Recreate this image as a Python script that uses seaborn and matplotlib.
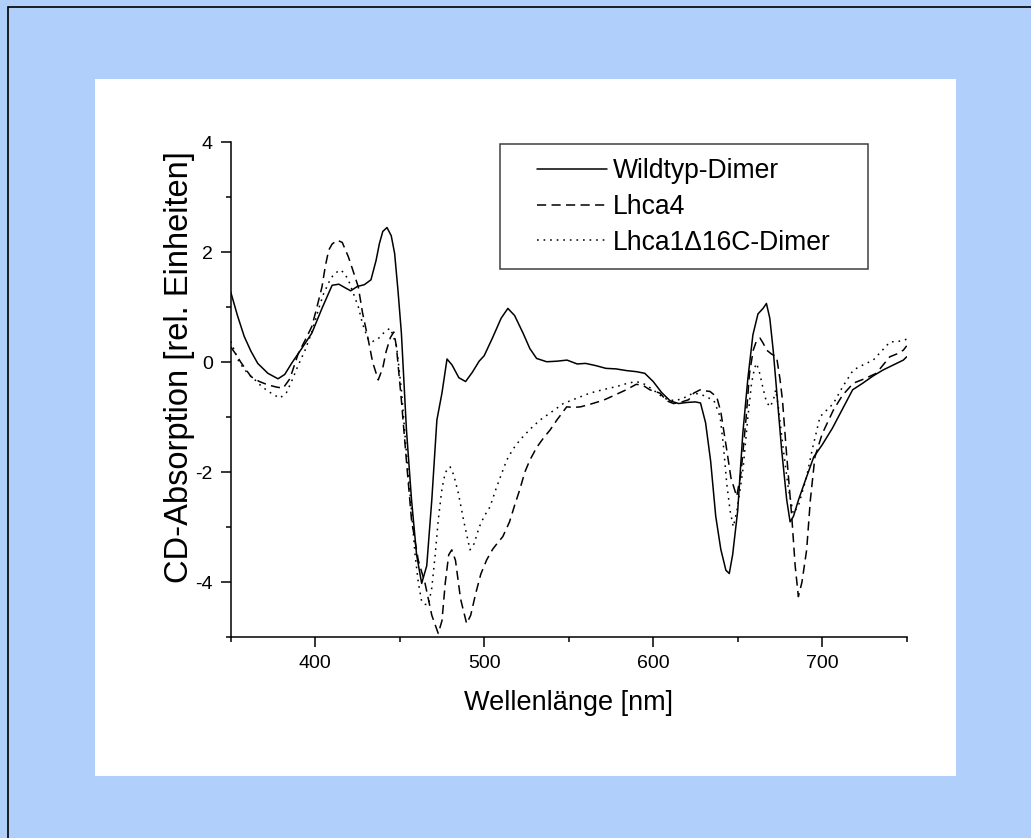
import numpy as np
import pandas as pd
import matplotlib
matplotlib.use("Agg")
import matplotlib.pyplot as plt
from matplotlib.patches import Rectangle
from matplotlib.ticker import MultipleLocator
import seaborn as sns

# ---------------- data ----------------
wt_nm = [350, 354, 358, 362, 366, 372, 378, 382, 386, 392, 398, 404, 410, 414, 418, 421, 425, 429,
         433, 436, 438, 440, 442.5, 445, 447, 449, 451, 454, 457, 460, 463, 466, 469, 472, 475, 478,
         481, 485, 489, 493, 497, 500, 505, 510, 514, 518, 523, 527, 531, 537, 543, 549, 555, 560,
         566, 572, 578, 584, 590, 595, 600, 605, 610, 615, 620, 625, 628, 631, 634, 637, 640, 643,
         645, 647, 650, 653, 656, 659, 662, 665, 667, 669, 671, 673, 676, 679, 681, 683, 686, 690,
         695, 700, 706, 712, 718, 724, 730, 736, 742, 748, 750]
wt_cd = [1.28, 0.85, 0.47, 0.20, -0.02, -0.20, -0.30, -0.22, -0.02, 0.25, 0.53, 0.98, 1.40, 1.42,
         1.35, 1.30, 1.38, 1.41, 1.50, 1.85, 2.16, 2.38, 2.45, 2.30, 1.98, 1.30, 0.53, -1.23, -2.50,
         -3.50, -4.02, -3.70, -2.50, -1.05, -0.56, 0.06, -0.05, -0.28, -0.35, -0.18, 0.02, 0.12,
         0.45, 0.80, 0.98, 0.85, 0.53, 0.25, 0.07, 0.01, 0.02, 0.04, -0.03, -0.02, -0.06, -0.11,
         -0.12, -0.15, -0.17, -0.20, -0.35, -0.55, -0.70, -0.75, -0.73, -0.72, -0.74, -1.10, -1.80,
         -2.80, -3.40, -3.78, -3.84, -3.50, -2.70, -1.30, -0.30, 0.50, 0.88, 0.98, 1.07, 0.80, 0.22,
         -0.50, -1.59, -2.50, -2.90, -2.80, -2.50, -2.15, -1.72, -1.50, -1.20, -0.85, -0.50, -0.38,
         -0.25, -0.14, -0.05, 0.04, 0.10]

l4_nm = [350, 353, 356, 362, 367, 372, 377, 381, 385, 390, 394, 398, 401, 404, 406, 408, 410, 413,
         416, 419.6, 422, 425.5, 428, 431.4, 434, 437.3, 440, 442, 444.5, 446.5, 448, 451, 454, 457,
         461, 465, 469, 472.8, 475, 477, 479, 480.8, 483, 486, 489.6, 492, 495, 498, 501.5, 505, 508,
         511, 515, 518, 521, 524, 527, 531, 535, 539, 543, 548.8, 553, 557, 563, 570.5, 577, 584,
         590, 594, 598, 604, 608, 612, 617, 621, 624, 627.8, 631, 633.6, 637.6, 640, 643.5, 646,
         649.4, 652, 655, 657, 659.2, 661, 663.2, 665, 667.2, 670, 673, 675, 676.5, 679, 682, 684,
         685.9, 688, 690.8, 693, 695.7, 700, 706.6, 712, 718.4, 725, 732, 736, 740, 744, 748, 750]
l4_cd = [0.28, 0.15, 0.00, -0.26, -0.35, -0.41, -0.45, -0.47, -0.30, 0.16, 0.40, 0.65, 1.00, 1.37,
         1.75, 2.04, 2.15, 2.22, 2.18, 1.92, 1.70, 1.37, 0.90, 0.41, 0.00, -0.32, -0.10, 0.20, 0.45,
         0.55, 0.30, -0.69, -1.80, -2.87, -3.60, -4.02, -4.60, -4.93, -4.70, -4.00, -3.50, -3.41,
         -3.60, -4.30, -4.75, -4.60, -4.20, -3.85, -3.59, -3.40, -3.28, -3.17, -2.90, -2.60, -2.32,
         -2.00, -1.78, -1.55, -1.38, -1.23, -1.05, -0.81, -0.82, -0.81, -0.76, -0.69, -0.60, -0.50,
         -0.40, -0.42, -0.50, -0.56, -0.70, -0.75, -0.72, -0.68, -0.56, -0.50, -0.52, -0.53, -0.63,
         -0.90, -1.59, -2.10, -2.44, -2.00, -1.00, -0.20, 0.22, 0.38, 0.44, 0.35, 0.22, 0.15, 0.10,
         -0.30, -0.69, -1.70, -2.81, -3.70, -4.26, -4.00, -3.41, -2.50, -1.72, -1.30, -0.87, -0.60,
         -0.38, -0.30, -0.20, -0.05, 0.10, 0.15, 0.22, 0.30]

l1_nm = [350, 355, 360, 364.4, 368, 372.3, 376, 379.2, 383, 386, 390, 394, 398, 401.8, 405, 408.8,
         411, 414.7, 417, 419.6, 422, 425.5, 428, 431.4, 434, 437, 441, 444.3, 446, 448.2, 451, 454,
         457, 459, 461, 463, 465, 467, 469, 471, 472.8, 475, 477, 479.8, 482, 484.7, 488, 491.6, 494,
         497, 500, 503.4, 507, 510, 513.3, 517, 521.2, 527, 533, 540, 546.8, 555, 562.6, 570, 578.4,
         585, 590, 595, 600, 605, 608, 613, 618, 623.7, 628, 631.7, 636, 639.6, 641.5, 643.5, 645.5,
         647.4, 649.5, 651.5, 653.3, 656, 658.2, 660, 661.2, 663, 665.2, 667, 669.1, 671, 672.5, 674,
         677, 680, 682.9, 686, 690.8, 694, 698.7, 706.6, 712, 718.4, 724, 730.2, 735, 740.1, 745,
         748, 750]
l1_cd = [0.38, 0.00, -0.20, -0.32, -0.43, -0.53, -0.60, -0.65, -0.55, -0.35, -0.05, 0.22, 0.55,
         0.95, 1.25, 1.50, 1.60, 1.68, 1.63, 1.50, 1.30, 1.01, 0.70, 0.41, 0.38, 0.42, 0.55, 0.62,
         0.50, 0.28, -0.50, -1.65, -2.70, -3.47, -4.00, -4.35, -4.40, -4.41, -4.10, -3.50, -2.87,
         -2.30, -2.00, -1.90, -2.05, -2.38, -2.90, -3.41, -3.30, -3.00, -2.80, -2.63, -2.30, -2.05,
         -1.78, -1.58, -1.41, -1.22, -1.05, -0.90, -0.75, -0.65, -0.56, -0.50, -0.44, -0.38, -0.35,
         -0.40, -0.50, -0.62, -0.67, -0.70, -0.65, -0.56, -0.58, -0.63, -0.70, -0.99, -1.50, -2.20,
         -2.70, -2.99, -2.70, -2.30, -1.90, -1.00, -0.38, -0.10, -0.02, -0.20, -0.50, -0.72, -0.81,
         -0.70, -0.50, -0.80, -1.59, -2.30, -2.75, -2.60, -2.08, -1.60, -0.99, -0.75, -0.45, -0.14,
         -0.05, 0.04, 0.20, 0.37, 0.38, 0.40, 0.42]

series_names = ["Wildtyp-Dimer", "Lhca4", "Lhca1\u039416C-Dimer"]
x_label = "Wellenlänge [nm]"
y_label = "CD-Absorption [rel. Einheiten]"

# ---------------- style ----------------
sns.set_theme(style="ticks")
plt.rcParams["font.family"] = ["Liberation Sans", "DejaVu Sans"]
plt.rcParams["axes.unicode_minus"] = False

W, H = 1031, 838
fig = plt.figure(figsize=(W / 100, H / 100), dpi=100, facecolor="#B0CFFA")

# white panel and outer border
fig.patches.append(Rectangle((95 / W, (H - 776) / H), (956 - 95) / W, (776 - 79) / H,
                             transform=fig.transFigure, facecolor="white", edgecolor="none",
                             zorder=-10))
fig.patches.append(Rectangle((8 / W, -0.1), 1.2, (H - 7) / H + 0.1, transform=fig.transFigure,
                             fill=False, edgecolor="black", lw=1.2, zorder=-9))

ax_l, ax_r, ax_t, ax_b = 230.7, 906.7, 142.3, 637.3
ax = fig.add_axes([ax_l / W, (H - ax_b) / H, (ax_r - ax_l) / W, (ax_b - ax_t) / H])
ax.set_facecolor("none")
ax.set_zorder(5)

styles = ["-", (0, (6, 3.5)), (0, (1.1, 3.2))]
datasets = [(wt_nm, wt_cd), (l4_nm, l4_cd), (l1_nm, l1_cd)]
for name, (xs, ys), ls in zip(series_names, datasets, styles):
    df = pd.DataFrame({"nm": xs, "cd": ys})
    sns.lineplot(data=df, x="nm", y="cd", ax=ax, color="black", lw=1.1, linestyle=ls,
                 label=name, sort=False, estimator=None)

ax.set_xlim(350, 750)
ax.set_ylim(-5, 4)
ax.xaxis.set_major_locator(MultipleLocator(100))
ax.xaxis.set_minor_locator(MultipleLocator(50))
ax.yaxis.set_major_locator(MultipleLocator(2))
ax.yaxis.set_minor_locator(MultipleLocator(1))
for s in ["top", "right"]:
    ax.spines[s].set_visible(False)
for s in ["left", "bottom"]:
    ax.spines[s].set_color("black")
    ax.spines[s].set_linewidth(1.1)
ax.tick_params(which="major", direction="out", length=7, width=1.1, colors="black",
               labelsize=14, pad=6)
ax.tick_params(which="minor", direction="out", length=3.5, width=1.1, colors="black")

ax.set_xlabel(x_label, fontsize=19.5, color="black")
ax.set_ylabel(y_label, fontsize=23.5, color="black")
ax.xaxis.set_label_coords(0.5, (ax_b - 690) / (ax_b - ax_t))
ax.yaxis.set_label_coords((195 - ax_l) / (ax_r - ax_l), (ax_b - 367) / (ax_b - ax_t))

# legend
handles = ax.get_lines()[:3]
leg = ax.legend(handles=handles, labels=series_names, loc="center left",
                bbox_to_anchor=((537 - ax_l) / (ax_r - ax_l), (ax_b - 207) / (ax_b - ax_t)),
                frameon=False, fontsize=19.1, handlelength=2.65, handletextpad=0.2,
                labelspacing=0.36, borderpad=0, borderaxespad=0)
for t in leg.get_texts():
    t.set_color("black")
ax.add_patch(Rectangle(((500 - ax_l) / (ax_r - ax_l), (ax_b - 269) / (ax_b - ax_t)),
                       (868 - 500) / (ax_r - ax_l), (269 - 144) / (ax_b - ax_t),
                       transform=ax.transAxes, fill=False, edgecolor="#404040", lw=1.1,
                       clip_on=False, zorder=5))

fig.savefig("out.png", dpi=100, facecolor=fig.get_facecolor())
